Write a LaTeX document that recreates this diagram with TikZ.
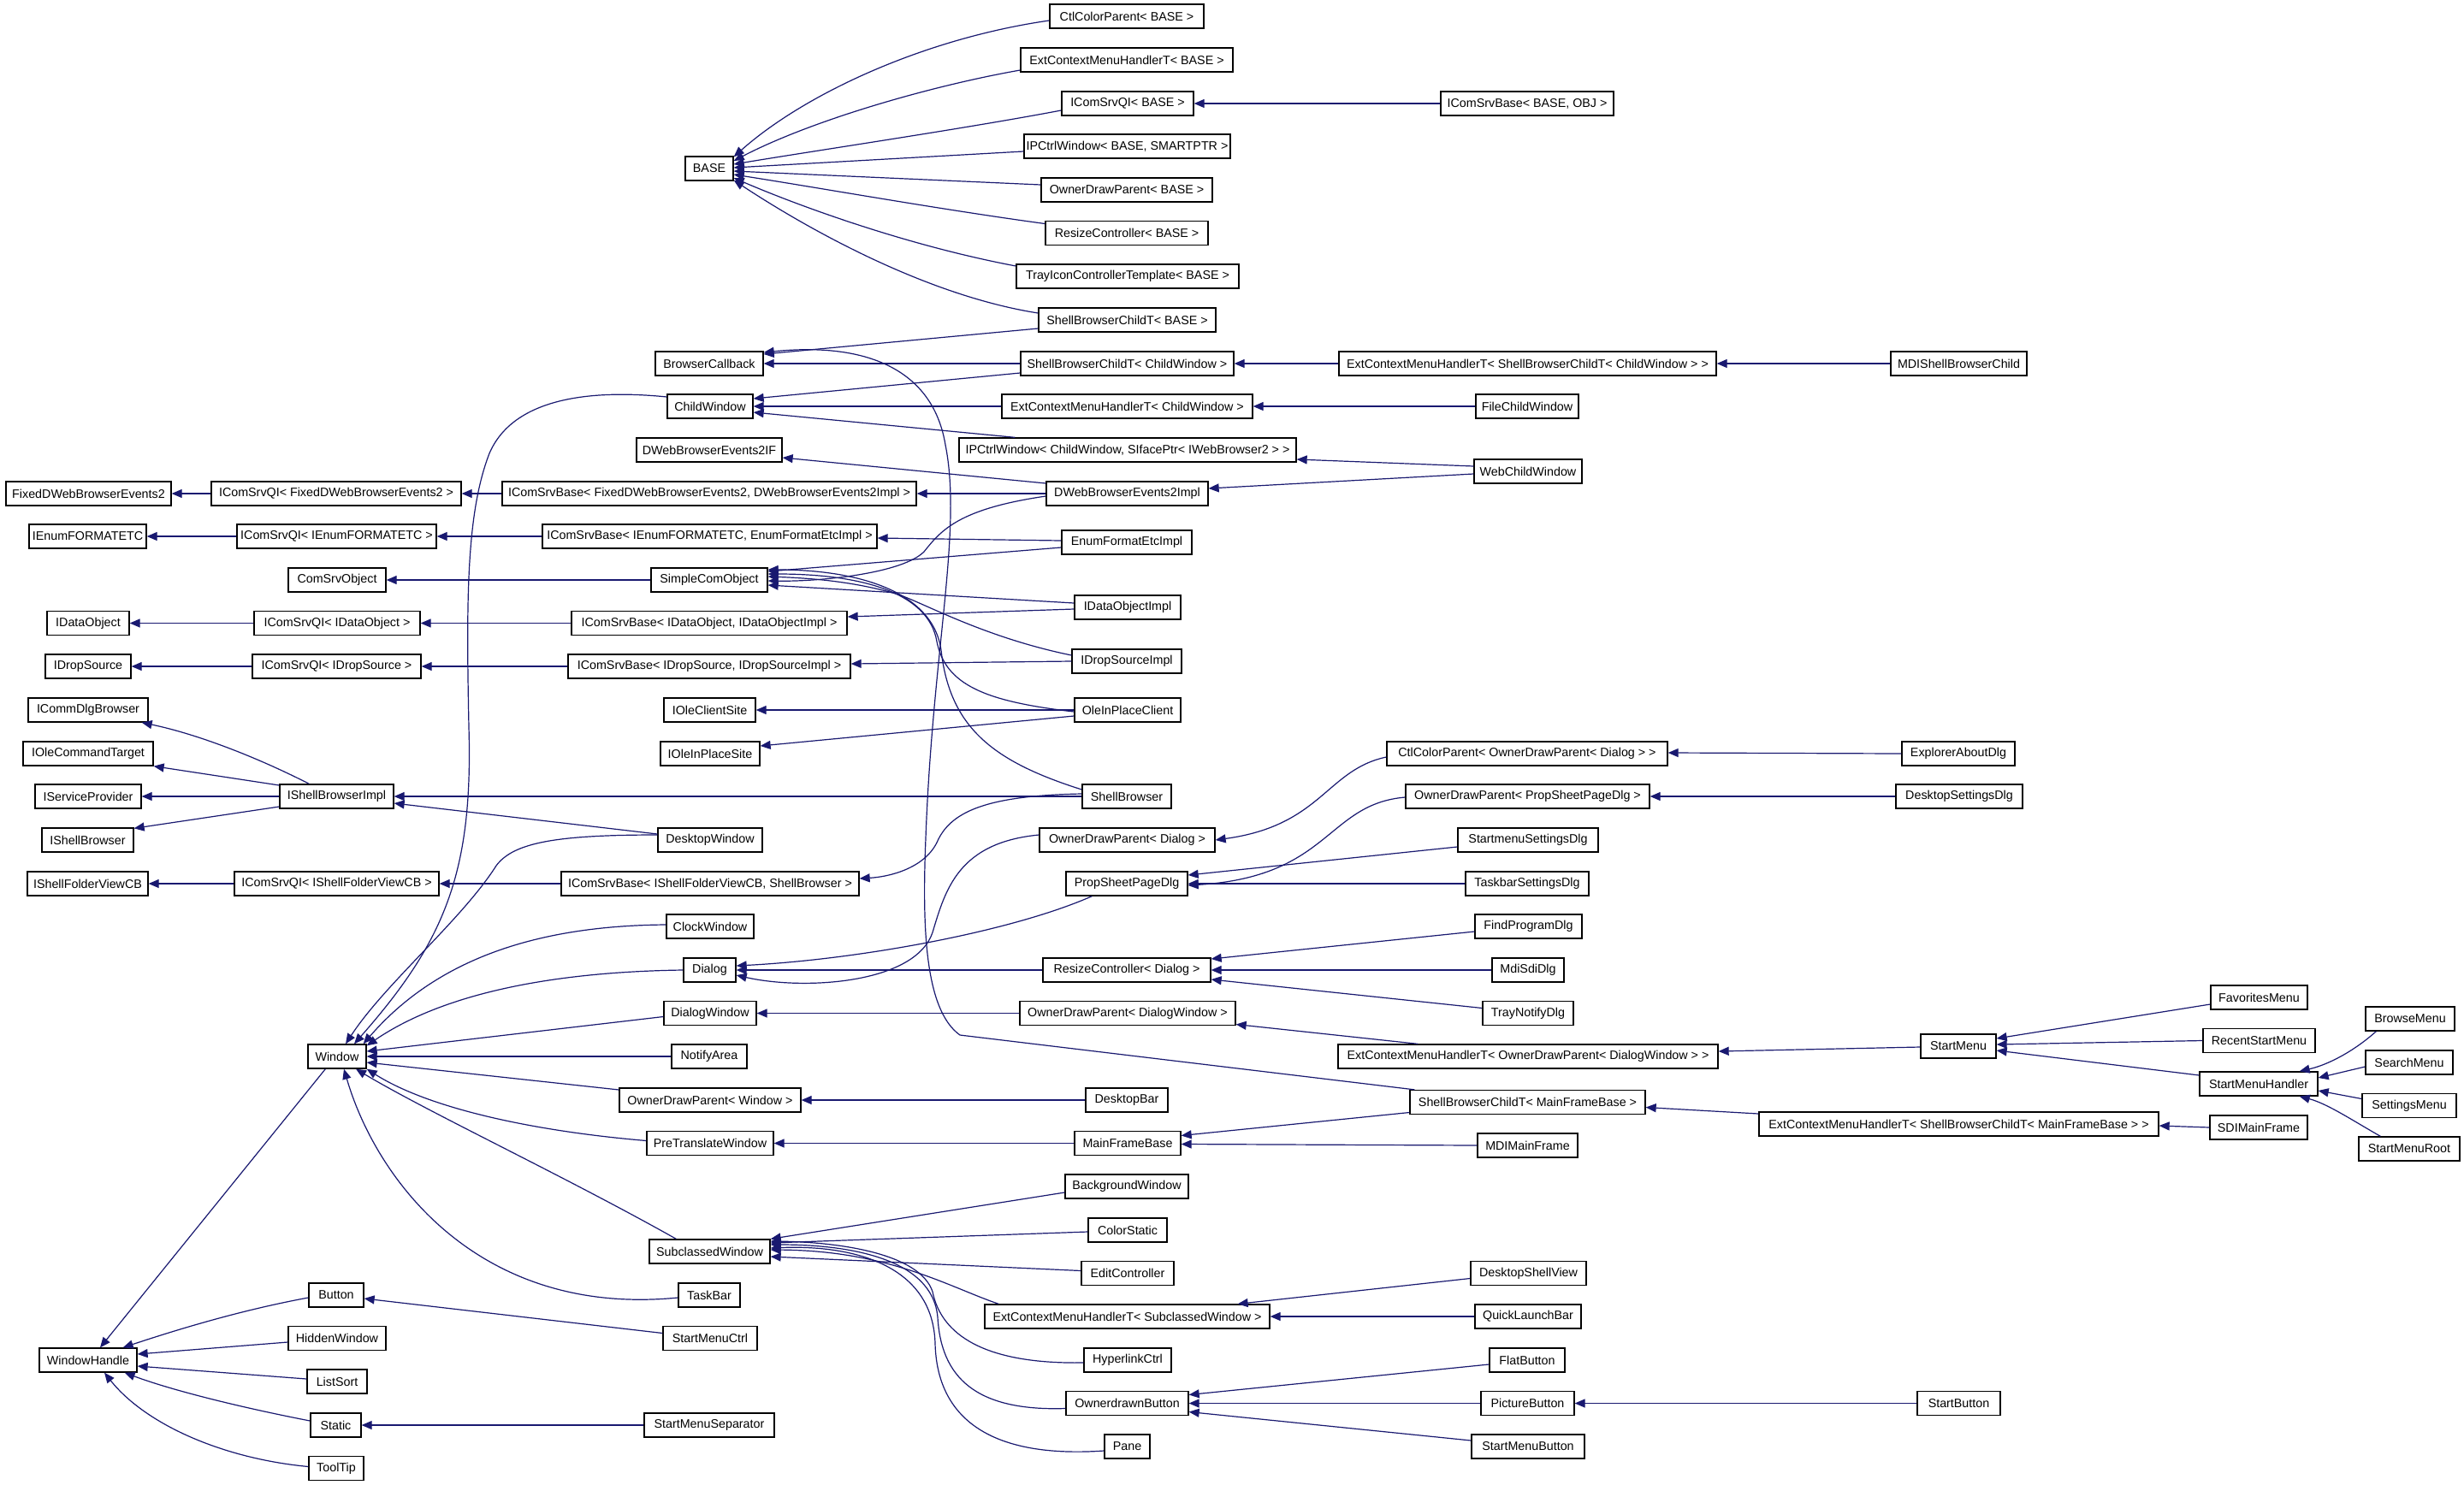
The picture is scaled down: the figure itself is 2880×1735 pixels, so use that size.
\documentclass[tikz,border=0pt]{standalone}
\usepackage{fontspec}
\setmainfont{Liberation Sans}
\usetikzlibrary{arrows.meta,calc}
\definecolor{edgeblue}{RGB}{25,25,112}
\newcommand\mknode[5]{\node[cls, minimum width={(#3-#2)*0.5pt}] (#1) at ({(#2+#3)/2},#4) {#5};}
\begin{document}
\begin{tikzpicture}[x=0.5pt,y=-0.5pt,
 cls/.style={draw=black, fill=white, line width=0.65pt, minimum height=14pt, inner sep=0pt, font=\fontsize{7.15}{8}\selectfont},
 e/.style={draw=edgeblue, line width=0.6pt, -{Triangle[length=6pt,width=5pt]}}]
\fill[white] (0,0) rectangle (2880,1735);
\useasboundingbox (0,0) rectangle (2880,1735);
% ---------------- nodes ----------------
\mknode{BASE}{801}{857}{197}{BASE}
\mknode{CCPb}{1227}{1407}{19}{CtlColorParent< BASE >}
\mknode{ECMb}{1193}{1441}{70}{ExtContextMenuHandlerT< BASE >}
\mknode{ICQb}{1241}{1395}{121}{IComSrvQI< BASE >}
\mknode{ICBbo}{1684}{1886}{121}{IComSrvBase< BASE, OBJ >}
\mknode{IPCb}{1197}{1438}{171}{IPCtrlWindow< BASE, SMARTPTR >}
\mknode{ODPb}{1217}{1417}{222}{OwnerDrawParent< BASE >}
\mknode{RCb}{1222}{1412}{272.5}{ResizeController< BASE >}
\mknode{TICb}{1188}{1448}{323}{TrayIconControllerTemplate< BASE >}
\mknode{SBCb}{1214}{1421}{374}{ShellBrowserChildT< BASE >}
\mknode{BCB}{766}{892}{425}{BrowserCallback}
\mknode{SBCcw}{1193}{1442}{425}{ShellBrowserChildT< ChildWindow >}
\mknode{ECMsbc}{1565}{2006}{425}{ExtContextMenuHandlerT< ShellBrowserChildT< ChildWindow > >}
\mknode{MDISBC}{2210}{2369}{425}{MDIShellBrowserChild}
\mknode{CW}{780}{880}{475}{ChildWindow}
\mknode{ECMcw}{1171}{1464}{475}{ExtContextMenuHandlerT< ChildWindow >}
\mknode{FCW}{1725}{1845}{475}{FileChildWindow}
\mknode{DWBIF}{744}{914}{526}{DWebBrowserEvents2IF}
\mknode{IPCcw}{1121}{1515}{526}{IPCtrlWindow< ChildWindow, SIfacePtr< IWebBrowser2 > >}
\mknode{WCW}{1723}{1849}{551}{WebChildWindow}
\mknode{FDWBE}{7}{200}{577}{FixedDWebBrowserEvents2}
\mknode{ICQf}{247}{539}{577}{IComSrvQI< FixedDWebBrowserEvents2 >}
\mknode{ICBf}{587}{1071}{577}{IComSrvBase< FixedDWebBrowserEvents2, DWebBrowserEvents2Impl >}
\mknode{DWBImpl}{1223}{1412}{577}{DWebBrowserEvents2Impl}
\mknode{IEnum}{34}{171}{627}{IEnumFORMATETC}
\mknode{ICQe}{277}{510}{627}{IComSrvQI< IEnumFORMATETC >}
\mknode{ICBe}{634}{1025}{627}{IComSrvBase< IEnumFORMATETC, EnumFormatEtcImpl >}
\mknode{EFEImpl}{1241}{1393}{634}{EnumFormatEtcImpl}
\mknode{CSO}{337}{451}{678}{ComSrvObject}
\mknode{SCO}{761}{897}{678}{SimpleComObject}
\mknode{IDOImpl}{1256}{1380}{710}{IDataObjectImpl}
\mknode{IDO}{55}{151}{728.5}{IDataObject}
\mknode{ICQdo}{297}{491}{728.5}{IComSrvQI< IDataObject >}
\mknode{ICBdo}{668}{990}{728.5}{IComSrvBase< IDataObject, IDataObjectImpl >}
\mknode{IDSImpl}{1253}{1381}{773}{IDropSourceImpl}
\mknode{IDS}{53}{153}{779}{IDropSource}
\mknode{ICQds}{295}{492}{779}{IComSrvQI< IDropSource >}
\mknode{ICBds}{664}{994}{779}{IComSrvBase< IDropSource, IDropSourceImpl >}
\mknode{ICDB}{33}{173}{830}{ICommDlgBrowser}
\mknode{IOCS}{776}{883}{830}{IOleClientSite}
\mknode{OIPC}{1256}{1380}{830}{OleInPlaceClient}
\mknode{IOCT}{27}{179}{881}{IOleCommandTarget}
\mknode{IOIPS}{772}{888}{881}{IOleInPlaceSite}
\mknode{CCPodp}{1621}{1949}{881}{CtlColorParent< OwnerDrawParent< Dialog > >}
\mknode{EAD}{2223}{2355}{881}{ExplorerAboutDlg}
\mknode{ISP}{41}{165}{931}{IServiceProvider}
\mknode{ISBImpl}{327}{460}{931}{IShellBrowserImpl}
\mknode{SB}{1265}{1369}{931}{ShellBrowser}
\mknode{ODPpsp}{1643}{1928}{931}{OwnerDrawParent< PropSheetPageDlg >}
\mknode{DSD}{2216}{2364}{931}{DesktopSettingsDlg}
\mknode{ISB}{49}{156}{982}{IShellBrowser}
\mknode{DW}{769}{891}{982}{DesktopWindow}
\mknode{ODPd}{1215}{1420}{982}{OwnerDrawParent< Dialog >}
\mknode{SSD}{1704}{1868}{982}{StartmenuSettingsDlg}
\mknode{ISFV}{32}{173}{1033}{IShellFolderViewCB}
\mknode{ICQsf}{274}{513}{1033}{IComSrvQI< IShellFolderViewCB >}
\mknode{ICBsf}{656}{1004}{1033}{IComSrvBase< IShellFolderViewCB, ShellBrowser >}
\mknode{PSPD}{1246}{1388}{1033}{PropSheetPageDlg}
\mknode{TSD}{1713}{1857}{1033}{TaskbarSettingsDlg}
\mknode{CLW}{779}{881}{1083}{ClockWindow}
\mknode{FPD}{1724}{1849}{1083}{FindProgramDlg}
\mknode{DLG}{799}{860}{1134}{Dialog}
\mknode{RCd}{1219}{1415}{1134}{ResizeController< Dialog >}
\mknode{MSD}{1744}{1828}{1134}{MdiSdiDlg}
\mknode{FAV}{2584}{2697}{1166}{FavoritesMenu}
\mknode{DLW}{776}{884}{1184.5}{DialogWindow}
\mknode{ODPdw}{1192}{1444}{1184.5}{OwnerDrawParent< DialogWindow >}
\mknode{TND}{1733}{1839}{1184.5}{TrayNotifyDlg}
\mknode{BRM}{2765}{2869}{1191}{BrowseMenu}
\mknode{RSM}{2575}{2706}{1216.5}{RecentStartMenu}
\mknode{SM}{2245}{2333}{1223}{StartMenu}
\mknode{WIN}{360}{428}{1235}{Window}
\mknode{NA}{785}{873}{1235}{NotifyArea}
\mknode{ECModpdw}{1564}{2008}{1235}{ExtContextMenuHandlerT< OwnerDrawParent< DialogWindow > >}
\mknode{SRM}{2765}{2867}{1242}{SearchMenu}
\mknode{SMH}{2571}{2709}{1267}{StartMenuHandler}
\mknode{ODPw}{724}{936}{1286}{OwnerDrawParent< Window >}
\mknode{DB}{1269}{1365}{1286}{DesktopBar}
\mknode{SBCmfb}{1648}{1923}{1288.5}{ShellBrowserChildT< MainFrameBase >}
\mknode{STM}{2761}{2871}{1292.5}{SettingsMenu}
\mknode{ECMsbcmfb}{2056}{2523}{1314}{ExtContextMenuHandlerT< ShellBrowserChildT< MainFrameBase > >}
\mknode{SDI}{2583}{2697}{1318}{SDIMainFrame}
\mknode{PTW}{756}{904}{1336.5}{PreTranslateWindow}
\mknode{MFB}{1256}{1380}{1336.5}{MainFrameBase}
\mknode{MDIMF}{1727}{1844}{1339}{MDIMainFrame}
\mknode{SMR}{2757}{2875}{1343}{StartMenuRoot}
\mknode{BGW}{1245}{1389}{1387}{BackgroundWindow}
\mknode{CS}{1272}{1364}{1438}{ColorStatic}
\mknode{SCW}{759}{900}{1463}{SubclassedWindow}
\mknode{EC}{1264}{1372}{1488.5}{EditController}
\mknode{DSV}{1719}{1854}{1488.5}{DesktopShellView}
\mknode{BTN}{361}{425}{1514}{Button}
\mknode{TB}{793}{865}{1514}{TaskBar}
\mknode{ECMscw}{1151}{1484}{1539}{ExtContextMenuHandlerT< SubclassedWindow >}
\mknode{QLB}{1724}{1848}{1539}{QuickLaunchBar}
\mknode{HW}{337}{451}{1564.5}{HiddenWindow}
\mknode{SMC}{775}{885}{1564.5}{StartMenuCtrl}
\mknode{WH}{46}{160}{1590}{WindowHandle}
\mknode{HLC}{1267}{1369}{1590}{HyperlinkCtrl}
\mknode{FB}{1741}{1829}{1590}{FlatButton}
\mknode{LS}{359}{429}{1615}{ListSort}
\mknode{ODB}{1246}{1389}{1640.5}{OwnerdrawnButton}
\mknode{PB}{1731}{1840}{1640.5}{PictureButton}
\mknode{SBtn}{2241}{2338}{1640.5}{StartButton}
\mknode{STC}{363}{422}{1666}{Static}
\mknode{SMS}{753}{905}{1666}{StartMenuSeparator}
\mknode{SMB}{1720}{1852}{1691}{StartMenuButton}
\mknode{PANE}{1291}{1344}{1691}{Pane}
\mknode{TT}{361}{425}{1716.5}{ToolTip}
% ---------------- edges ----------------
% BASE
\draw[e] ($(CCPb.west)+(0,5)$) .. controls (1080,45) and (940,110) .. ($(BASE.north east)+(0,1)$);
\draw[e] ($(ECMb.west)+(0,12)$) .. controls (1090,100) and (950,140) .. ($(BASE.east)+(0,-9)$);
\draw[e] ($(ICQb.west)+(0,8)$) .. controls (1130,150) and (960,175) .. ($(BASE.east)+(0,-5)$);
\draw[e] ($(IPCb.west)+(0,6)$) -- ($(BASE.east)+(0,-1)$);
\draw[e] ($(ODPb.west)+(0,-6)$) -- ($(BASE.east)+(0,3)$);
\draw[e] ($(RCb.west)+(0,-11)$) .. controls (1100,245) and (960,220) .. ($(BASE.east)+(0,7)$);
\draw[e] ($(TICb.west)+(0,-12)$) .. controls (1050,285) and (920,235) .. ($(BASE.east)+(0,11)$);
\draw[e] ($(SBCb.west)+(0,-8)$) .. controls (1080,345) and (940,265) .. ($(BASE.south east)+(0,-1)$);
\draw[e] (ICBbo.west) -- (ICQb.east);
% BrowserCallback
\draw[e] ($(SBCb.west)+(0,10)$) -- ($(BCB.east)+(0,-11)$);
\draw[e] (SBCcw.west) -- (BCB.east);
\draw[e] ($(SBCmfb.north west)+(6,0)$) -- (1122,1210) .. controls (1080,1180) and (1078,1080) .. (1082,980) .. controls (1090,760) and (1125,620) .. (1105,520) .. controls (1090,430) and (1010,400) .. ($(BCB.east)+(0,-13)$);
% ChildWindow
\draw[e] ($(SBCcw.west)+(0,11)$) -- ($(CW.east)+(0,-9)$);
\draw[e] (ECMcw.west) -- (CW.east);
\draw[e] ($(IPCcw.north west)+(66,0)$) -- ($(CW.east)+(0,7)$);
\draw[e] (ECMsbc.west) -- (SBCcw.east);
\draw[e] (MDISBC.west) -- (ECMsbc.east);
\draw[e] (FCW.west) -- (ECMcw.east);
\draw[e] ($(WCW.west)+(0,-6)$) -- ($(IPCcw.east)+(0,11)$);
\draw[e] ($(WCW.west)+(0,3)$) -- ($(DWBImpl.east)+(0,-6)$);
% COM
\draw[e] ($(DWBImpl.west)+(0,-12)$) -- ($(DWBIF.east)+(0,9)$);
\draw[e] (DWBImpl.west) -- (ICBf.east);
\draw[e] ($(DWBImpl.west)+(0,3)$) .. controls (1120,595) and (1100,620) .. (1080,645) .. controls (1055,670) and (960,680) .. ($(SCO.east)+(0,1)$);
\draw[e] (ICBf.west) -- (ICQf.east);
\draw[e] (ICQf.west) -- (FDWBE.east);
\draw[e] (ICBe.west) -- (ICQe.east);
\draw[e] (ICQe.west) -- (IEnum.east);
\draw[e] ($(EFEImpl.west)+(0,-2)$) -- ($(ICBe.east)+(0,2)$);
\draw[e] ($(EFEImpl.west)+(0,6)$) -- ($(SCO.east)+(0,-10)$);
\draw[e] (SCO.west) -- (CSO.east);
\draw[e] ($(IDOImpl.west)+(0,-5)$) -- ($(SCO.east)+(0,6)$);
\draw[e] ($(IDOImpl.west)+(0,2)$) -- ($(ICBdo.east)+(0,-7.5)$);
\draw[e] (ICBdo.west) -- (ICQdo.east);
\draw[e] (ICQdo.west) -- (IDO.east);
\draw[e] ($(IDSImpl.west)+(0,-7)$) .. controls (1150,745) and (1080,705) .. (1050,695) .. controls (1000,680) and (950,676) .. ($(SCO.east)+(0,-4)$);
\draw[e] (IDSImpl.west) -- ($(ICBds.east)+(0,-3)$);
\draw[e] (ICBds.west) -- (ICQds.east);
\draw[e] (ICQds.west) -- (IDS.east);
\draw[e] ($(OIPC.west)+(0,2)$) .. controls (1150,820) and (1105,800) .. (1095,750) .. controls (1085,690) and (1000,671) .. ($(SCO.east)+(0,-7)$);
\draw[e] (OIPC.west) -- (IOCS.east);
\draw[e] ($(OIPC.west)+(0,7)$) -- ($(IOIPS.east)+(0,-9)$);
% ShellBrowser
\draw[e] ($(SB.west)+(0,-8)$) .. controls (1160,890) and (1110,850) .. (1100,760) .. controls (1090,690) and (1000,666) .. ($(SCO.east)+(0,-12)$);
\draw[e] (SB.west) -- (ISBImpl.east);
\draw[e] ($(SB.west)+(0,-3)$) .. controls (1150,930) and (1110,950) .. (1095,985) .. controls (1080,1015) and (1040,1025) .. ($(ICBsf.east)+(0,-6)$);
\draw[e] ($(ISBImpl.north west)+(35,0)$) .. controls (300,885) and (230,858) .. ($(ICDB.south east)+(-8,0)$);
\draw[e] ($(ISBImpl.west)+(0,-13)$) -- (IOCT.south east);
\draw[e] (ISBImpl.west) -- (ISP.east);
\draw[e] ($(ISBImpl.west)+(0,12)$) -- ($(ISB.north east)+(0,1)$);
\draw[e] ($(DW.west)+(0,-7)$) -- ($(ISBImpl.east)+(0,8)$);
\draw[e] (ICBsf.west) -- (ICQsf.east);
\draw[e] (ICQsf.west) -- (ISFV.east);
% Window
\draw[e] ($(DW.west)+(0,-6)$) .. controls (650,976) and (600,985) .. (580,1012) .. controls (540,1075) and (450,1150) .. ($(WIN.north)+(10,0)$);
\draw[e] ($(CW.west)+(0,-11)$) .. controls (690,455) and (600,465) .. (572,530) .. controls (545,600) and (545,700) .. (548,850) .. controls (553,1020) and (520,1100) .. ($(WIN.north)+(20,0)$);
\draw[e] ($(CLW.west)+(0,-2)$) .. controls (650,1082) and (520,1110) .. ($(WIN.north east)+(-4,0)$);
\draw[e] (DLG.west) .. controls (650,1136) and (520,1160) .. ($(WIN.north east)+(0,2)$);
\draw[e] ($(DLW.west)+(0,4)$) -- ($(WIN.east)+(0,-6)$);
\draw[e] (NA.west) -- (WIN.east);
\draw[e] ($(ODPw.west)+(0,-12)$) -- ($(WIN.east)+(0,7)$);
\draw[e] ($(PTW.west)+(0,-3)$) .. controls (620,1322) and (500,1295) .. (WIN.south east);
\draw[e] ($(SCW.north west)+(32,0)$) .. controls (660,1375) and (500,1300) .. ($(WIN.south)+(22,0)$);
\draw[e] ($(TB.west)+(0,3)$) .. controls (560,1540) and (440,1380) .. ($(WIN.south)+(8,0)$);
\draw[e] (DB.west) -- (ODPw.east);
\draw[e] (MFB.west) -- (PTW.east);
\draw[e] ($(SBCmfb.west)+(0,12)$) -- ($(MFB.east)+(0,-9)$);
\draw[e] (MDIMF.west) -- ($(MFB.east)+(0,1)$);
\draw[e] ($(ECMsbcmfb.west)+(0,-12)$) -- ($(SBCmfb.east)+(0,6)$);
\draw[e] (SDI.west) -- ($(ECMsbcmfb.east)+(0,2)$);
% WindowHandle
\draw[e] ($(WIN.south west)+(21,0)$) -- ($(WH.north)+(14,0)$);
\draw[e] ($(BTN.west)+(0,3)$) .. controls (290,1530) and (220,1550) .. ($(WH.north east)+(-17,0)$);
\draw[e] ($(HW.west)+(0,4.5)$) -- ($(WH.east)+(0,-7)$);
\draw[e] ($(LS.west)+(0,-3)$) -- ($(WH.east)+(0,7)$);
\draw[e] ($(STC.west)+(0,-5)$) .. controls (280,1645) and (200,1625) .. ($(WH.south east)+(-15,0)$);
\draw[e] ($(TT.west)+(0,-2)$) .. controls (260,1705) and (170,1665) .. ($(WH.south)+(19,0)$);
\draw[e] ($(SMC.west)+(0,-6)$) -- ($(BTN.east)+(0,4)$);
\draw[e] (SMS.west) -- (STC.east);
% Dialog
\draw[e] ($(ODPd.west)+(0,-6)$) .. controls (1120,985) and (1105,1040) .. (1090,1090) .. controls (1070,1150) and (940,1158) .. ($(DLG.east)+(0,6)$);
\draw[e] ($(PSPD.south west)+(31,0)$) .. controls (1180,1090) and (1000,1122) .. ($(DLG.east)+(0,-5)$);
\draw[e] (RCd.west) -- (DLG.east);
\draw[e] ($(CCPodp.west)+(0,4)$) .. controls (1550,900) and (1545,965) .. (ODPd.east);
\draw[e] (EAD.west) -- ($(CCPodp.east)+(0,-1)$);
\draw[e] ($(ODPpsp.west)+(0,1)$) .. controls (1550,940) and (1555,1025) .. ($(PSPD.east)+(0,2)$);
\draw[e] (DSD.west) -- (ODPpsp.east);
\draw[e] ($(SSD.west)+(0,8)$) -- ($(PSPD.east)+(0,-10)$);
\draw[e] (TSD.west) -- (PSPD.east);
\draw[e] ($(FPD.west)+(0,6)$) -- ($(RCd.east)+(0,-13)$);
\draw[e] (MSD.west) -- (RCd.east);
\draw[e] ($(TND.west)+(0,-6)$) -- ($(RCd.east)+(0,11)$);
\draw[e] (ODPdw.west) -- (DLW.east);
\draw[e] ($(ECModpdw.north west)+(94,0)$) -- ($(ODPdw.east)+(0,13)$);
% StartMenu
\draw[e] ($(SM.west)+(0,1)$) -- ($(ECModpdw.east)+(0,-6)$);
\draw[e] ($(FAV.west)+(0,8)$) -- ($(SM.east)+(0,-9)$);
\draw[e] (RSM.west) -- ($(SM.east)+(0,-2)$);
\draw[e] ($(SMH.west)+(0,-10)$) -- ($(SM.east)+(0,5)$);
\draw[e] ($(BRM.south west)+(13,0)$) .. controls (2750,1230) and (2720,1245) .. ($(SMH.north east)+(-22,0)$);
\draw[e] ($(SRM.west)+(0,5)$) -- ($(SMH.east)+(0,-7)$);
\draw[e] ($(STM.west)+(0,-8)$) -- ($(SMH.east)+(0,8)$);
\draw[e] ($(SMR.north west)+(26,0)$) .. controls (2750,1310) and (2720,1290) .. ($(SMH.south east)+(-22,0)$);
% SubclassedWindow
\draw[e] ($(BGW.west)+(0,7)$) -- (SCW.north east);
\draw[e] ($(CS.west)+(0,2)$) -- ($(SCW.east)+(0,-10)$);
\draw[e] ($(EC.west)+(0,-3)$) -- ($(SCW.east)+(0,6)$);
\draw[e] ($(ECMscw.north west)+(17,0)$) .. controls (1110,1505) and (1040,1462) .. ($(SCW.east)+(0,-2)$);
\draw[e] ($(HLC.west)+(0,3)$) .. controls (1150,1595) and (1100,1560) .. (1090,1510) .. controls (1075,1465) and (980,1452) .. ($(SCW.east)+(0,-12)$);
\draw[e] ($(ODB.west)+(0,6)$) .. controls (1140,1650) and (1100,1610) .. (1096,1540) .. controls (1090,1470) and (990,1455) .. ($(SCW.east)+(0,-8)$);
\draw[e] ($(PANE.west)+(0,5)$) .. controls (1160,1705) and (1095,1660) .. (1093,1570) .. controls (1090,1480) and (1000,1455) .. ($(SCW.east)+(0,-4)$);
\draw[e] ($(DSV.west)+(0,6)$) -- ($(ECMscw.north east)+(-38,0)$);
\draw[e] (QLB.west) -- (ECMscw.east);
\draw[e] ($(FB.west)+(0,5)$) -- ($(ODB.east)+(0,-10)$);
\draw[e] (PB.west) -- (ODB.east);
\draw[e] ($(SMB.west)+(0,-7)$) -- ($(ODB.east)+(0,10)$);
\draw[e] (SBtn.west) -- (PB.east);
\end{tikzpicture}
\end{document}
